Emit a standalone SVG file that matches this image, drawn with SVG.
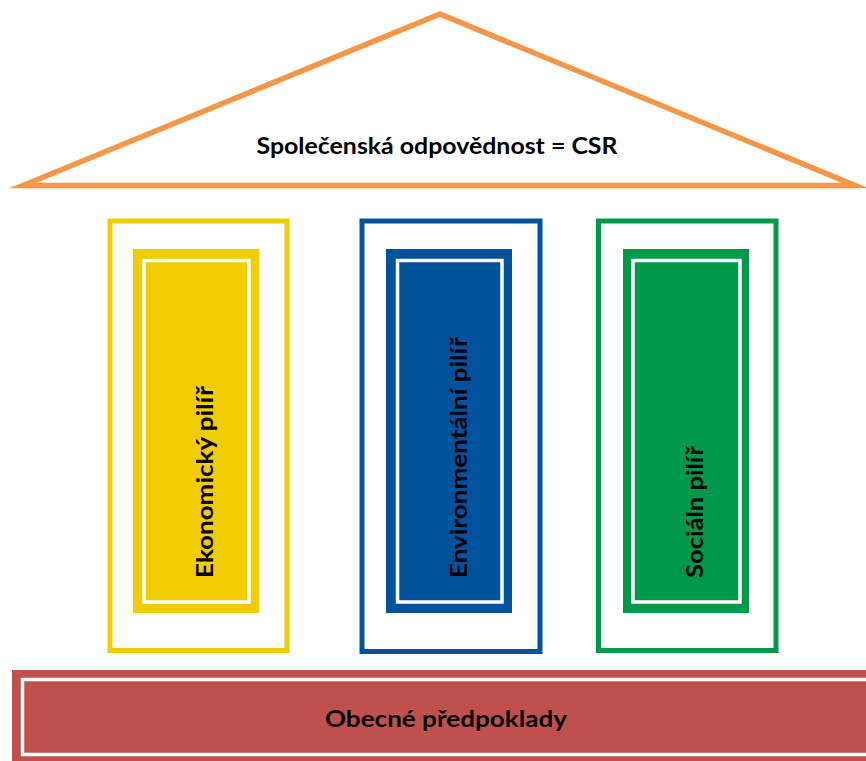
<svg xmlns="http://www.w3.org/2000/svg" width="866" height="761" viewBox="0 0 866 761">
<style>
  .lbl { font-family: "Lato", "Open Sans", "Liberation Sans", sans-serif; font-weight: bold; font-size: 22px; fill: #000; }
  .frame { fill: #fff; stroke-width: 5; }
  .inner { fill: none; stroke: #fff; stroke-width: 3.5; }
</style>
<rect width="866" height="761" fill="#fff"/>
<g id="roof">
  <polygon points="23,185.5 440,14 855,185.5" fill="#fff" stroke="#F79646" stroke-width="5.5" stroke-linejoin="miter" stroke-miterlimit="6"/>
  <text class="lbl" x="437" y="154" text-anchor="middle" textLength="361" lengthAdjust="spacingAndGlyphs">Společenská odpovědnost = CSR</text>
</g>
<g id="pillar-economic">
  <rect class="frame" x="110" y="221" width="177" height="429.5" stroke="#F0CC00"/>
  <rect x="133" y="249" width="126" height="364" fill="#F0CC00"/>
  <rect class="inner" x="144" y="260.5" width="105" height="341.5"/>
  <text class="lbl" transform="translate(213,578) rotate(-90)" textLength="192" lengthAdjust="spacingAndGlyphs">Ekonomický pilíř</text>
</g>
<g id="pillar-environmental">
  <rect class="frame" x="362" y="221" width="178" height="430.5" stroke="#00529C"/>
  <rect x="386" y="249" width="126" height="364" fill="#00529C"/>
  <rect class="inner" x="397.5" y="260.5" width="104.5" height="341.5"/>
  <text class="lbl" transform="translate(467,578) rotate(-90)" textLength="241" lengthAdjust="spacingAndGlyphs">Environmentální pilíř</text>
</g>
<g id="pillar-social">
  <rect class="frame" x="598.5" y="221" width="177.5" height="429.5" stroke="#00984A"/>
  <rect x="623" y="249" width="126" height="364" fill="#00984A"/>
  <rect class="inner" x="633" y="260.5" width="107" height="341.5"/>
  <text class="lbl" transform="translate(703,578) rotate(-90)" textLength="132" lengthAdjust="spacingAndGlyphs">Sociáln pilíř</text>
</g>
<g id="base">
  <rect x="12" y="670" width="870" height="95" fill="#C0504D"/>
  <rect class="inner" x="22.5" y="679.5" width="900" height="75"/>
  <text class="lbl" x="446" y="727" text-anchor="middle" textLength="242" lengthAdjust="spacingAndGlyphs">Obecné předpoklady</text>
</g>
<g id="connectors"/>
</svg>
